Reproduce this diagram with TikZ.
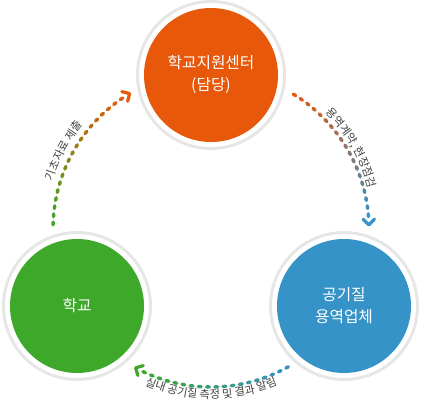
\documentclass[tikz,border=0pt]{standalone}
\usepackage{fontspec}
\setmainfont{Noto Sans CJK KR}
\usepackage{xcolor}
\usepackage{tikz}
\usetikzlibrary{decorations.text}

\definecolor{cOrange}{RGB}{232,88,10}
\definecolor{cGreen}{RGB}{62,168,42}
\definecolor{cBlue}{RGB}{53,147,199}
\definecolor{cRing}{RGB}{230,230,230}
\definecolor{cLabel}{RGB}{64,64,64}

\tikzset{
  disc/.style={circle, minimum size=100.5pt, inner sep=0pt, text=white, align=center, font=\fontsize{11.8pt}{16.5pt}\selectfont},
  ring/.style={draw=cRing, line width=2.2pt},
  arcdot/.style={line width=2.6pt, line cap=round},
  arrowtip/.style={line width=2.4pt, line cap=round, line join=round},
}

\begin{document}
\begin{tikzpicture}[x=0.75pt,y=0.75pt,yscale=-1,xscale=1]
\useasboundingbox (0,0) rectangle (421,407);

% middle of the cycle
\coordinate (hub) at (211,229);

% Circles
\node[disc, fill=cOrange] (center) at (211,75) {학교지원센터\\(담당)};
\node[disc, fill=cGreen] (school) at (77,306) {학교};
\node[disc, fill=cBlue] (agency) at (344,306) {공기질\\용역업체};
\draw[ring] (center.center) circle[radius=73.5];
\draw[ring] (school.center) circle[radius=73.5];
\draw[ring] (agency.center) circle[radius=73.5];

% Dotted arcs, colour runs from one circle to the next
\foreach \angA/\angB/\colA/\colB in {181.5/239/cGreen/cOrange, 301.4/358.5/cOrange/cBlue, 60.7/118.5/cBlue/cGreen}{
  \foreach \k in {0,...,18}{
    \pgfmathtruncatemacro\p{100*\k/18}
    \pgfmathsetmacro\t{\angA+(\angB-\angA-4)*\k/18}
    \draw[arcdot, draw=\colB!\p!\colA] (hub) ++(\t:158) arc[start angle=\t, delta angle=1, radius=158];
  }
  % arrow head
  \draw[arrowtip, draw=\colB] (hub) ++(\angB:158) ++(\angB+225:8) -- ++(\angB+45:8) -- ++(\angB-45:8);
}

% Text along the arcs
\path[decorate, decoration={text along path, text align=center, text color=cLabel,
  text={|\fontsize{8.4pt}{9pt}\selectfont|기초자료 제출}}]
  (hub) ++(188:165) arc[start angle=188, end angle=228, radius=165];
\path[decorate, decoration={text along path, text align=center, text color=cLabel,
  text={|\fontsize{8.4pt}{9pt}\selectfont|용역계약, 현장점검}}]
  (hub) ++(305:163) arc[start angle=305, end angle=355, radius=163];
\path[decorate, decoration={text along path, text align=center, text color=cLabel,
  text={|\fontsize{8.4pt}{9pt}\selectfont|실내 공기질 측정 및 결과 알림}}]
  (hub) ++(130:169.5) arc[start angle=130, end angle=50, radius=169.5];

\end{tikzpicture}
\end{document}
